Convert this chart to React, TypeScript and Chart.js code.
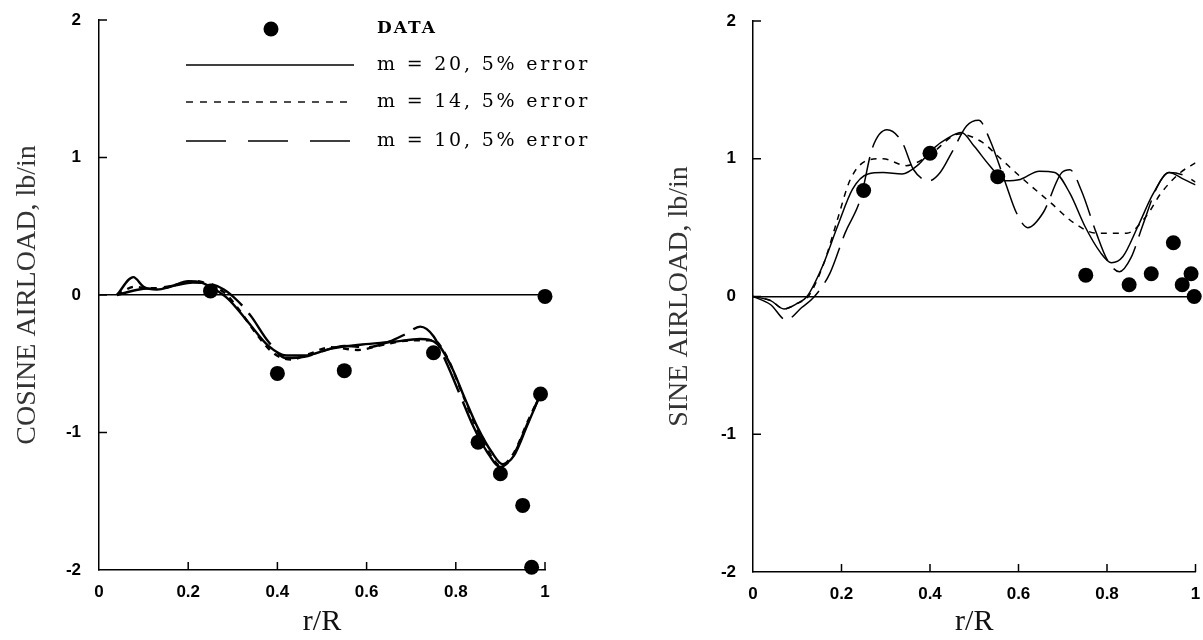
import React, { useEffect, useRef } from "react";
import { Chart, registerables } from "chart.js";
Chart.register(...registerables);

// ---- tick labels ----
const xTickLabels = ["0", "0.2", "0.4", "0.6", "0.8", "1"];
const yTickLabels = ["-2", "-1", "0", "1", "2"];

// ---- legend ----
const legendLabels = ["DATA", "m = 20, 5% error", "m = 14, 5% error", "m = 10, 5% error"];

// ---- COSINE (left) ----
const cosDataR = [0.25, 0.40, 0.55, 0.75, 0.85, 0.90, 0.95, 0.97, 0.99, 1.0];
const cosDataV = [0.03, -0.57, -0.55, -0.42, -1.07, -1.30, -1.53, -1.98, -0.72, -0.01];

const cosM20R = [0.04, 0.077, 0.10, 0.13, 0.16, 0.20, 0.23, 0.26, 0.29, 0.33, 0.38, 0.42, 0.46, 0.52, 0.59, 0.66, 0.72, 0.76, 0.79, 0.82, 0.85, 0.88, 0.905, 0.93, 0.96, 0.99];
const cosM20V = [0.0, 0.13, 0.06, 0.04, 0.06, 0.10, 0.09, 0.04, -0.03, -0.18, -0.37, -0.44, -0.44, -0.39, -0.36, -0.34, -0.32, -0.36, -0.52, -0.75, -0.97, -1.14, -1.23, -1.17, -0.95, -0.72];

const cosM14R = [0.04, 0.08, 0.11, 0.14, 0.18, 0.22, 0.25, 0.28, 0.31, 0.35, 0.39, 0.43, 0.47, 0.52, 0.58, 0.64, 0.70, 0.75, 0.78, 0.81, 0.84, 0.87, 0.90, 0.93, 0.96, 0.99];
const cosM14V = [0.0, 0.06, 0.05, 0.05, 0.08, 0.10, 0.07, 0.02, -0.09, -0.27, -0.42, -0.47, -0.43, -0.38, -0.40, -0.36, -0.33, -0.33, -0.45, -0.68, -0.92, -1.12, -1.24, -1.15, -0.93, -0.72];

const cosM10R = [0.04, 0.09, 0.13, 0.17, 0.21, 0.25, 0.28, 0.31, 0.34, 0.38, 0.42, 0.46, 0.50, 0.55, 0.60, 0.65, 0.69, 0.72, 0.75, 0.78, 0.81, 0.84, 0.87, 0.90, 0.93, 0.96, 0.99];
const cosM10V = [0.0, 0.04, 0.05, 0.07, 0.09, 0.08, 0.04, -0.04, -0.15, -0.34, -0.46, -0.45, -0.41, -0.37, -0.38, -0.34, -0.28, -0.23, -0.30, -0.50, -0.73, -0.96, -1.14, -1.25, -1.16, -0.94, -0.72];

// ---- SINE (right) ----
const sinDataR = [0.25, 0.40, 0.553, 0.752, 0.85, 0.90, 0.95, 0.97, 0.99, 0.997];
const sinDataV = [0.77, 1.04, 0.87, 0.155, 0.085, 0.165, 0.39, 0.085, 0.165, 0.0];

const sinM20R = [0, 0.04, 0.07, 0.10, 0.122, 0.157, 0.191, 0.225, 0.26, 0.294, 0.337, 0.371, 0.406, 0.44, 0.471, 0.50, 0.535, 0.57, 0.604, 0.647, 0.682, 0.716, 0.75, 0.785, 0.81, 0.836, 0.87, 0.905, 0.94, 0.974, 1.0];
const sinM20V = [0, -0.03, -0.09, -0.05, 0.0, 0.22, 0.51, 0.78, 0.89, 0.90, 0.89, 0.95, 1.07, 1.15, 1.19, 1.09, 0.95, 0.84, 0.85, 0.91, 0.90, 0.75, 0.51, 0.32, 0.245, 0.29, 0.51, 0.75, 0.90, 0.85, 0.81];

const sinM14R = [0, 0.04, 0.07, 0.10, 0.125, 0.16, 0.19, 0.22, 0.26, 0.294, 0.346, 0.40, 0.466, 0.518, 0.553, 0.604, 0.673, 0.725, 0.776, 0.845, 0.888, 0.922, 0.966, 1.0];
const sinM14V = [0, -0.03, -0.09, -0.05, 0.0, 0.24, 0.55, 0.85, 0.99, 1.0, 0.95, 1.03, 1.18, 1.12, 1.02, 0.87, 0.68, 0.535, 0.46, 0.46, 0.58, 0.75, 0.90, 0.97];

const sinM10R = [0, 0.04, 0.075, 0.11, 0.139, 0.174, 0.208, 0.243, 0.27, 0.303, 0.337, 0.363, 0.398, 0.423, 0.45, 0.483, 0.51, 0.535, 0.57, 0.595, 0.621, 0.656, 0.698, 0.716, 0.742, 0.776, 0.80, 0.828, 0.854, 0.88, 0.914, 0.94, 0.974, 1.0];
const sinM10V = [0, -0.06, -0.17, -0.08, 0.0, 0.17, 0.46, 0.71, 1.08, 1.21, 1.12, 0.92, 0.84, 0.90, 1.05, 1.24, 1.28, 1.14, 0.83, 0.61, 0.50, 0.61, 0.90, 0.92, 0.77, 0.46, 0.27, 0.18, 0.28, 0.51, 0.80, 0.90, 0.88, 0.83];

const SHORT_DASH = [6, 6];
const LONG_DASH = [38, 10];

const pts = (r: number[], v: number[]) => r.map((x, i) => ({ x, y: v[i] }));

const innerTicks = {
  id: "innerTicks",
  afterDraw(chart: any) {
    const { ctx, chartArea } = chart;
    const xs = chart.scales.x;
    const ys = chart.scales.y;
    ctx.save();
    ctx.strokeStyle = "#000";
    ctx.lineWidth = 1.5;
    xs.ticks.forEach((t: any) => {
      if (Math.abs(t.value) < 1e-9) return;
      const px = xs.getPixelForValue(t.value);
      ctx.beginPath();
      ctx.moveTo(px, chartArea.bottom);
      ctx.lineTo(px, chartArea.bottom - 8);
      ctx.stroke();
    });
    ys.ticks.forEach((t: any) => {
      if (t.value === -2) return;
      const py = ys.getPixelForValue(t.value);
      ctx.beginPath();
      ctx.moveTo(chartArea.left, py);
      ctx.lineTo(chartArea.left + 8, py);
      ctx.stroke();
    });
    ctx.restore();
  },
};

const legendPlugin = {
  id: "customLegend",
  afterDraw(chart: any) {
    const { ctx, chartArea } = chart;
    const L = chartArea.left;
    const T = chartArea.top;
    const x0 = L + 87;
    const x1 = L + 255;
    const tx = L + 278;
    const rows = [T + 9, T + 45, T + 82, T + 121];
    ctx.save();
    ctx.fillStyle = "#000";
    ctx.strokeStyle = "#000";
    ctx.beginPath();
    ctx.arc(L + 172, rows[0], 7.5, 0, Math.PI * 2);
    ctx.fill();
    const dashes = [[], [7, 7], [40, 22]];
    for (let i = 0; i < 3; i++) {
      ctx.setLineDash(dashes[i]);
      ctx.lineWidth = 1.4;
      ctx.beginPath();
      ctx.moveTo(x0, rows[i + 1]);
      ctx.lineTo(x1, rows[i + 1]);
      ctx.stroke();
    }
    ctx.setLineDash([]);
    ctx.textBaseline = "middle";
    ctx.textAlign = "left";
    (ctx as any).letterSpacing = "2px";
    ctx.font = 'bold 17px "DejaVu Serif"';
    ctx.fillText(legendLabels[0], tx, rows[0]);
    (ctx as any).letterSpacing = "2.8px";
    ctx.font = '19px "DejaVu Serif"';
    for (let i = 1; i < 4; i++) ctx.fillText(legendLabels[i], tx, rows[i]);
    (ctx as any).letterSpacing = "0px";
    ctx.restore();
  },
};

function makeConfig(opts: {
  dataR: number[]; dataV: number[];
  m20: [number[], number[]]; m14: [number[], number[]]; m10: [number[], number[]];
  lineWidth: number; yTitle: string;
  padTop: number; padRight: number; yWidth: number; xHeight: number;
  yTitlePad: number; yTickPad: number; legend: boolean;
}) {
  const lineBase = {
    showLine: true,
    pointRadius: 0,
    borderColor: "#000",
    backgroundColor: "#000",
    borderWidth: opts.lineWidth,
    cubicInterpolationMode: "monotone",
    fill: false,
  };
  return {
    type: "scatter",
    data: {
      datasets: [
        {
          label: legendLabels[0],
          data: pts(opts.dataR, opts.dataV),
          pointRadius: 7.5,
          pointBackgroundColor: "#000",
          pointBorderWidth: 0,
          showLine: false,
          clip: false,
        },
        { ...lineBase, label: legendLabels[1], data: pts(opts.m20[0], opts.m20[1]) },
        { ...lineBase, label: legendLabels[2], data: pts(opts.m14[0], opts.m14[1]), borderDash: SHORT_DASH },
        { ...lineBase, label: legendLabels[3], data: pts(opts.m10[0], opts.m10[1]), borderDash: LONG_DASH },
      ],
    },
    options: {
      animation: false,
      responsive: false,
      maintainAspectRatio: false,
      events: [],
      layout: { padding: { left: 0, top: opts.padTop, right: opts.padRight, bottom: 0 } },
      plugins: { legend: { display: false }, tooltip: { enabled: false } },
      scales: {
        x: {
          type: "linear",
          min: 0,
          max: 1,
          ticks: {
            stepSize: 0.2,
            padding: 12,
            color: "#000",
            font: { family: '"Liberation Sans"', size: 17, weight: "bold" },
            maxRotation: 0,
            autoSkip: false,
            callback: (_v: any, i: number) => xTickLabels[i],
          },
          grid: { drawTicks: false, color: "rgba(0,0,0,0)" },
          border: { display: true, color: "#000", width: 1.5 },
          title: {
            display: true,
            text: "r/R",
            color: "#111",
            font: { family: '"Liberation Serif"', size: 30 },
            padding: { top: 0, bottom: 0 },
          },
          afterFit: (s: any) => {
            s.height = opts.xHeight;
            s.paddingLeft = 0;
            s.paddingRight = 0;
          },
        },
        y: {
          type: "linear",
          min: -2,
          max: 2,
          ticks: {
            stepSize: 1,
            padding: opts.yTickPad,
            color: "#000",
            font: { family: '"Liberation Sans"', size: 17, weight: "bold" },
            autoSkip: false,
            callback: (_v: any, i: number) => yTickLabels[i],
          },
          grid: {
            drawTicks: false,
            lineWidth: 1.5,
            color: (c: any) => (c.tick && c.tick.value === 0 ? "#000" : "rgba(0,0,0,0)"),
          },
          border: { display: true, color: "#000", width: 1.5 },
          title: {
            display: true,
            text: opts.yTitle,
            color: "#333",
            font: { family: '"Liberation Serif"', size: 28 },
            padding: { top: opts.yTitlePad, bottom: 0 },
          },
          afterFit: (s: any) => {
            s.width = opts.yWidth;
            s.paddingTop = 0;
            s.paddingBottom = 0;
          },
        },
      },
    },
    plugins: opts.legend ? [innerTicks, legendPlugin] : [innerTicks],
  } as any;
}

export default function App() {
  const leftRef = useRef<HTMLCanvasElement>(null);
  const rightRef = useRef<HTMLCanvasElement>(null);

  useEffect(() => {
    const left = new Chart(
      leftRef.current as HTMLCanvasElement,
      makeConfig({
        dataR: cosDataR, dataV: cosDataV,
        m20: [cosM20R, cosM20V], m14: [cosM14R, cosM14V], m10: [cosM10R, cosM10V],
        lineWidth: 2.4, yTitle: "COSINE AIRLOAD, lb/in",
        padTop: 20, padRight: 56, yWidth: 99, xHeight: 70,
        yTitlePad: 11, yTickPad: 18, legend: true,
      })
    );
    const right = new Chart(
      rightRef.current as HTMLCanvasElement,
      makeConfig({
        dataR: sinDataR, dataV: sinDataV,
        m20: [sinM20R, sinM20V], m14: [sinM14R, sinM14V], m10: [sinM10R, sinM10V],
        lineWidth: 1.5, yTitle: "SINE AIRLOAD, lb/in",
        padTop: 21, padRight: 2, yWidth: 152, xHeight: 68,
        yTitlePad: 62, yTickPad: 17, legend: false,
      })
    );
    return () => {
      left.destroy();
      right.destroy();
    };
  }, []);

  return (
    <div style={{ position: "absolute", left: 0, top: 0, width: 1203, height: 640, background: "#fff", overflow: "hidden" }}>
      <canvas ref={leftRef} width={601} height={640} style={{ position: "absolute", left: 0, top: 0, width: 601, height: 640 }} />
      <canvas ref={rightRef} width={602} height={640} style={{ position: "absolute", left: 601, top: 0, width: 602, height: 640 }} />
    </div>
  );
}
